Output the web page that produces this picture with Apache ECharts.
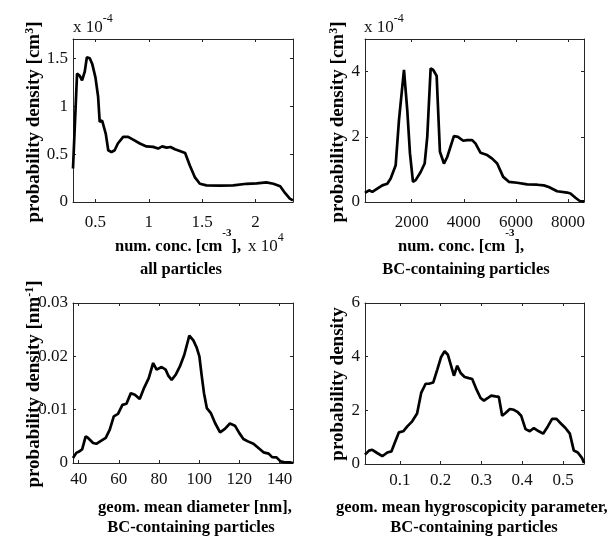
<!DOCTYPE html>
<html>
<head>
<meta charset="utf-8">
<script src="https://cdn.jsdelivr.net/npm/echarts@6/dist/echarts.min.js"></script>
<style>html,body{margin:0;padding:0;background:#fff;}#c{width:608px;height:541px;}</style>
</head>
<body>
<div id="c"></div>
<script>
// Panel 1: all particles, number concentration (x in 1e4 cm^-3, y in 1e-4 cm^3)
const p1x = [0.29,0.328,0.35,0.375,0.40,0.42,0.447,0.47,0.5,0.525,0.54,0.5625,0.58,0.597,0.62,0.65,0.68,0.71,0.76,0.806,0.853,0.916,0.978,1.04,1.087,1.125,1.166,1.203,1.244,1.29,1.34,1.384,1.43,1.478,1.54,1.666,1.79,1.915,2.01,2.10,2.166,2.23,2.275,2.32,2.35];
const p1y = [0.35,1.34,1.32,1.27,1.36,1.51,1.50,1.44,1.30,1.10,0.835,0.85,0.86,0.71,0.54,0.52,0.54,0.61,0.68,0.68,0.65,0.61,0.58,0.575,0.557,0.58,0.567,0.574,0.55,0.532,0.51,0.38,0.26,0.19,0.174,0.17,0.174,0.19,0.195,0.205,0.19,0.164,0.094,0.035,0.017];
// Panel 2: BC-containing particles, number concentration (y in 1e-4 cm^3)
const p2x = [210,364,490,682,874,1065,1195,1387,1513,1705,1831,1935,2050,2153,2345,2498,2598,2728,2828,2958,3084,3238,3364,3620,3774,3977,4131,4322,4452,4643,4897,5089,5280,5510,5728,6046,6429,6812,7068,7260,7579,7962,8091,8283,8448,8610];
const p2y = [0.28,0.36,0.31,0.41,0.51,0.56,0.72,1.13,2.51,4.05,2.82,1.49,0.62,0.67,0.92,1.18,2.0,4.10,4.05,3.87,1.54,1.18,1.38,2.02,2.0,1.88,1.90,1.90,1.79,1.51,1.44,1.33,1.18,0.77,0.62,0.59,0.54,0.53,0.51,0.46,0.33,0.29,0.26,0.13,0.03,0.02];
// Panel 3: geometric mean diameter [nm]
const p3x = [37.2,38.85,40.5,41.8,43.5,44.7,47.2,48.8,51.3,53.5,55.5,57.5,59.6,61.8,63.8,66,68,70.4,72.6,74.9,77.1,78.8,81.3,83.3,84.6,86.3,88.4,90.4,92.6,95.1,97.1,98.8,100.1,101.3,102.4,103.8,105.9,107.9,110.4,112.8,115.3,117.8,120,122,124,127,129.5,132,134.6,136.3,138.5,140.5,143,145.5,146.7];
const p3y = [0.00094,0.0019,0.0022,0.0026,0.005,0.0047,0.00375,0.0036,0.0042,0.0047,0.00625,0.00875,0.0092,0.0109,0.0111,0.0131,0.0128,0.012,0.0141,0.0159,0.01875,0.0175,0.018,0.0175,0.0164,0.0156,0.0166,0.0181,0.0203,0.0239,0.023,0.0216,0.02,0.01625,0.0131,0.0103,0.0093,0.0075,0.00575,0.0064,0.0074,0.007,0.0056,0.0045,0.0041,0.0036,0.0028,0.002,0.00175,0.0011,0.00106,0.0003,0.0001,0.0001,0];
// Panel 4: geometric mean hygroscopicity parameter
const p4x = [0.0142,0.024,0.032,0.044,0.0566,0.069,0.079,0.087,0.0975,0.108,0.118,0.130,0.142,0.152,0.163,0.171,0.1817,0.1915,0.201,0.2095,0.2176,0.2258,0.2324,0.2405,0.2488,0.2586,0.269,0.2772,0.288,0.2977,0.306,0.3157,0.3238,0.3345,0.3426,0.3507,0.359,0.3696,0.3794,0.3892,0.3973,0.408,0.4186,0.4284,0.4407,0.4512,0.4627,0.4733,0.484,0.4953,0.506,0.5167,0.5265,0.5363,0.5468,0.5515];
const p4y = [0.35,0.50,0.53,0.41,0.29,0.43,0.47,0.78,1.18,1.22,1.40,1.59,1.88,2.65,2.99,2.99,3.04,3.52,3.99,4.2,4.07,3.64,3.29,3.66,3.39,3.24,3.20,3.17,2.77,2.46,2.36,2.46,2.55,2.52,2.50,1.80,1.90,2.05,2.02,1.93,1.80,1.30,1.22,1.34,1.22,1.13,1.40,1.68,1.68,1.50,1.34,1.13,0.50,0.43,0.22,0.04];

// Axis ranges and tick values
const xRanges = [[0.29,2.35],[210,8610],[37.2,146.7],[0.0142,0.5515]];
const yRanges = [[0,1.7],[0,5],[0,0.03],[0,6]];
const xTicks = [[0.5,1,1.5,2],[2000,4000,6000,8000],[40,60,80,100,120,140],[0.1,0.2,0.3,0.4,0.5]];
const yTicks = [[0,0.5,1,1.5],[0,2,4],[0,0.01,0.02,0.03],[0,2,4,6]];

const SERIES = [[p1x,p1y],[p2x,p2y],[p3x,p3y],[p4x,p4y]];
const FONT = 'Liberation Serif';
const AX = '#262626';

const grids = [
  {left:73, top:39, width:220, height:163},
  {left:365, top:39, width:219, height:163},
  {left:73, top:303, width:220, height:160},
  {left:365, top:303, width:219, height:161}
];
const xMargins = [12, 12, 8, 8];

const xAxes = [], yAxes = [], series = [];
const fmt = v => String(v);
for (let i=0;i<4;i++){
  const base = {type:'value', gridIndex:i, splitLine:{show:false},
    axisLine:{show:true, onZero:false, lineStyle:{color:AX, width:1}}};
  xAxes.push(Object.assign({}, base, {position:'bottom', min:xRanges[i][0], max:xRanges[i][1],
    axisTick:{inside:true, length:3, customValues:xTicks[i], lineStyle:{color:AX}},
    axisLabel:{customValues:xTicks[i], formatter:fmt, color:'#111', fontFamily:FONT, fontSize:17, margin:xMargins[i]}}));
  xAxes.push(Object.assign({}, base, {position:'top', min:xRanges[i][0], max:xRanges[i][1],
    axisTick:{inside:true, length:3, customValues:xTicks[i], lineStyle:{color:AX}},
    axisLabel:{show:false}}));
  yAxes.push(Object.assign({}, base, {position:'left', min:yRanges[i][0], max:yRanges[i][1],
    axisTick:{inside:true, length:3, customValues:yTicks[i], lineStyle:{color:AX}},
    axisLabel:{customValues:yTicks[i], formatter:fmt, color:'#111', fontFamily:FONT, fontSize:17, margin:5}}));
  yAxes.push(Object.assign({}, base, {position:'right', min:yRanges[i][0], max:yRanges[i][1],
    axisTick:{inside:true, length:3, customValues:yTicks[i], lineStyle:{color:AX}},
    axisLabel:{show:false}}));
  const xs = SERIES[i][0], ys = SERIES[i][1];
  series.push({type:'line', xAxisIndex:2*i, yAxisIndex:2*i, showSymbol:false, symbol:'none',
    lineStyle:{color:'#000', width:2.7}, data: xs.map((x,k)=>[x, ys[k]]), animation:false});
}

const xlabRich = {
  n:{fontFamily:FONT, fontWeight:'bold', fontSize:16.5, lineHeight:38, fill:'#000'},
  s:{fontFamily:FONT, fontWeight:'bold', fontSize:11, lineHeight:12, verticalAlign:'top', fill:'#000'}
};
const ylabRich = {
  n:{fontFamily:FONT, fontWeight:'bold', fontSize:19, lineHeight:20, fill:'#000'},
  s:{fontFamily:FONT, fontWeight:'bold', fontSize:12, lineHeight:12, verticalAlign:'top', fill:'#000'}
};
const regRich = {
  n:{fontFamily:FONT, fontSize:17, lineHeight:30, fill:'#111'},
  s:{fontFamily:FONT, fontSize:12, lineHeight:12, verticalAlign:'top', fill:'#111'}
};
function txt(x, y, text, rich, opts){
  opts = opts || {};
  return {type:'text', x:x, y:y, rotation:opts.rot||0, silent:true,
    style:{text:text, textAlign:opts.align||'center', textVerticalAlign:'middle',
      fontFamily:FONT, fontWeight:'bold', fontSize:17, fill:'#000', rich: rich}};
}
const R = Math.PI/2;
const graphic = [
  // y labels
  txt(34, 122, '{n|probability density [cm}{s|3}{n|]}', ylabRich, {rot:R}),
  txt(338, 122, '{n|probability density [cm}{s|3}{n|]}', ylabRich, {rot:R}),
  txt(34, 384, '{n|probability density [nm}{s|-1}{n|]}', ylabRich, {rot:R}),
  txt(338, 384, '{n|probability density}', ylabRich, {rot:R}),
  // exponent labels
  txt(73, 28, '{n|x 10}{s|-4}', regRich, {align:'left'}),
  txt(364, 28, '{n|x 10}{s|-4}', regRich, {align:'left'}),
  txt(248, 247, '{n|x 10}{s|4}', regRich, {align:'left'}),
  // x labels
  txt(178, 247, '{n|num. conc. [cm}{s|-3}{n|],}', xlabRich),
  txt(181, 270, '{n|all particles}', xlabRich),
  txt(461, 247, '{n|num. conc. [cm}{s|-3}{n|],}', xlabRich),
  txt(466, 270, '{n|BC-containing particles}', xlabRich),
  txt(195, 508, '{n|geom. mean diameter [nm],}', xlabRich),
  txt(191, 528, '{n|BC-containing particles}', xlabRich),
  txt(336, 508, '{n|geom. mean hygroscopicity parameter,}', xlabRich, {align:'left'}),
  txt(474, 528, '{n|BC-containing particles}', xlabRich)
];

const chart = echarts.init(document.getElementById('c'), null, {renderer:'canvas'});
chart.setOption({animation:false, backgroundColor:'#fff', grid:grids, xAxis:xAxes, yAxis:yAxes, series:series, graphic:graphic});
</script>
</body>
</html>
